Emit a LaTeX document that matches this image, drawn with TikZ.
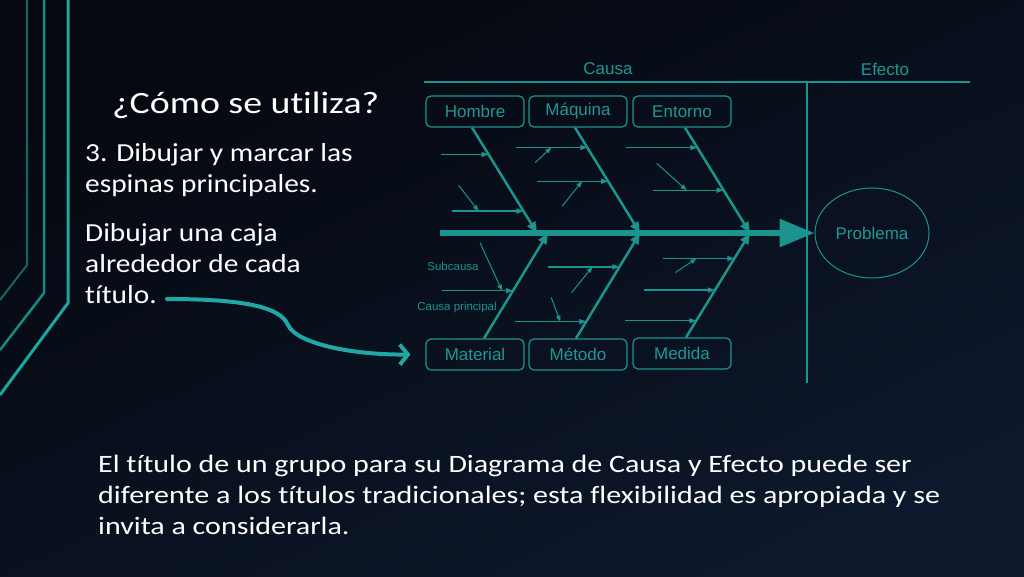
\documentclass[tikz,border=0pt]{standalone}
\usepackage{fontspec}
\setmainfont{Carlito}
\newfontfamily\diagfont{Liberation Sans}
\newfontfamily\titlefont[FakeStretch=1.22,Ligatures=NoCommon]{Carlito}
\newfontfamily\bodyfont[FakeStretch=1.13,Ligatures=NoCommon]{Carlito}
\newfontfamily\notefont[FakeStretch=1.2,Ligatures=NoCommon]{Carlito}
\usetikzlibrary{arrows.meta,shapes.geometric,calc,positioning}

\definecolor{bgtop}{RGB}{5,8,15}
\definecolor{bgbot}{RGB}{13,24,44}
\definecolor{fish}{RGB}{27,148,144}
\definecolor{fishtext}{RGB}{31,152,148}
\definecolor{deco1}{RGB}{17,104,103}
\definecolor{deco2}{RGB}{22,138,133}
\definecolor{deco3}{RGB}{29,166,159}
\definecolor{pointer}{RGB}{32,168,164}

\tikzset{
  titlebox/.style={draw=fish, line width=1.2pt, rounded corners=5pt,
    minimum width=98pt, minimum height=31pt, inner sep=0pt, text=fishtext,
    font=\diagfont\fontsize{17}{17}\selectfont},
  lab/.style={text=fishtext, inner sep=0pt, font=\diagfont\fontsize{17}{17}\selectfont},
  smalllab/.style={text=fish, inner sep=0pt, font=\diagfont\fontsize{11.5}{12}\selectfont},
  bone/.style={draw=fish, line width=2.5pt, -{Triangle[length=11pt,width=9pt]}},
  sub/.style={draw=fish, line width=1.4pt, -{Triangle[length=7pt,width=5pt]}},
  subsub/.style={draw=fish, line width=1pt, -{Triangle[length=6pt,width=4.5pt]}},
  slide/.style={text=white, inner sep=0pt, align=left, anchor=base west,
    font=\bodyfont\fontsize{26}{31}\selectfont},
}

\begin{document}
\begin{tikzpicture}[x=1pt, y=-1pt]

    \useasboundingbox (0,0) rectangle (1024,576);
    \shade[top color=bgtop, bottom color=bgbot, shading angle=25] (0,0) rectangle (1024,576);

    % Decoration
    \draw[deco1, line width=2pt] (27,0) -- (27,265) -- (0,300);
    \draw[deco2, line width=2.5pt] (44,0) -- (44,293) -- (0,350);
    \draw[deco3, line width=3pt] (68,0) -- (68,303) -- (0,395);

    % Text (base = last line)
    \node[slide, font=\titlefont\fontsize{31}{34}\selectfont] (title) at (112,113) {¿Cómo se utiliza?};
    \node[slide] (step) at (85,192) {3. Dibujar y marcar las\\espinas principales.};
    \node[slide] (box) at (85,303) {Dibujar una caja\\alrededor de cada\\título.};
    \node[slide, font=\notefont\fontsize{25}{31}\selectfont] (note) at (98,534)
      {El título de un grupo para su Diagrama de Causa y Efecto puede ser\\
       diferente a los títulos tradicionales; esta flexibilidad es apropiada y se\\
       invita a considerarla.};

    % Nodes
    \node[lab] (causa) at (608,69) {Causa};
    \node[lab] (efecto) at (885,69) {Efecto};
    \node[titlebox] (hombre) at (475,111.5) {Hombre};
    \node[titlebox] (maquina) at (578,111.5) {Máquina};
    \node[titlebox] (entorno) at (682,111.5) {Entorno};
    \node[titlebox] (material) at (475,354.5) {Material};
    \node[titlebox] (metodo) at (578,354.5) {Método};
    \node[titlebox] (medida) at (682,353.5) {Medida};
    \node[ellipse, draw=fish, line width=1pt, minimum width=114pt, minimum height=90pt,
      inner sep=0pt, lab] (problema) at (872,233) {Problema};
    \node[smalllab] (subcausa) at (453,266) {Subcausa};
    \node[smalllab] (principal) at (457,308) {Causa principal};

    \coordinate (hl) at (424,82);
    \coordinate (hr) at (970,82);
    \coordinate (dtop) at (807,82);
    \coordinate (dbot) at (807,383);
    \coordinate (spine) at (440,233);
    \coordinate (sh) at (537,233);
    \coordinate (sm) at (640,233);
    \coordinate (se) at (750,233);
    \coordinate (sma) at (548,233);
    \coordinate (sme) at (640,233);
    \coordinate (smd) at (750,233);
    \coordinate (bh) at ([xshift=-3pt]hombre.south);
    \coordinate (bm) at ([xshift=-3pt]maquina.south);
    \coordinate (be) at ([xshift=3pt]entorno.south);
    \coordinate (bma) at ([xshift=9pt]material.north);
    \coordinate (bme) at ([xshift=-2pt]metodo.north);
    \coordinate (bmd) at ([xshift=4pt]medida.north);

    % points on the bones
    \coordinate (h1) at ($(bh)!0.255!(sh)$);
    \coordinate (h2) at ($(bh)!0.792!(sh)$);
    \coordinate (m1) at ($(bm)!0.189!(sm)$);
    \coordinate (m2) at ($(bm)!0.509!(sm)$);
    \coordinate (e1) at ($(be)!0.189!(se)$);
    \coordinate (e2) at ($(be)!0.594!(se)$);
    \coordinate (ma1) at ($(bma)!0.453!(sma)$);
    \coordinate (me1) at ($(bme)!0.679!(sme)$);
    \coordinate (me2) at ($(bme)!0.160!(sme)$);
    \coordinate (md1) at ($(bmd)!0.755!(smd)$);
    \coordinate (md2) at ($(bmd)!0.453!(smd)$);
    \coordinate (md3) at ($(bmd)!0.160!(smd)$);

    % Lines
    \draw[fish, line width=1.2pt] (hl) -- (hr);
    \draw[fish, line width=1.2pt] (dtop) -- (dbot);
    \draw[fish, line width=6pt, -{Triangle[length=35pt,width=27pt]}] (spine) -- (problema.west);

    \draw[bone] (bh) -- (sh);
    \draw[bone] (bm) -- (sm);
    \draw[bone] (be) -- (se);
    \draw[bone] (bma) -- (sma);
    \draw[bone] (bme) -- (sme);
    \draw[bone] (bmd) -- (smd);

    \draw[sub] ($(h1)+(-48,0)$) -- (h1);
    \draw[sub] ($(h2)+(-71,0)$) -- (h2);
    \draw[sub] ($(m1)+(-71,0)$) -- (m1);
    \draw[sub] ($(m2)+(-71,0)$) -- (m2);
    \draw[sub] ($(e1)+(-71,0)$) -- (e1);
    \draw[sub] ($(e2)+(-71,0)$) -- (e2);
    \draw[sub] ($(ma1)+(-71,0)$) -- (ma1);
    \draw[sub] ($(me1)+(-71,0)$) -- (me1);
    \draw[sub] ($(me2)+(-71,0)$) -- (me2);
    \draw[sub] ($(md1)+(-71,0)$) -- (md1);
    \draw[sub] ($(md2)+(-71,0)$) -- (md2);
    \draw[sub] ($(md3)+(-71,0)$) -- (md3);

    \draw[subsub] ($(h2)+(-65,-26)$) -- ($(h2)+(-45,0)$);
    \draw[subsub] ($(m1)+(-52,15)$) -- ($(m1)+(-36,0)$);
    \draw[subsub] ($(m2)+(-46,25)$) -- ($(m2)+(-26,0)$);
    \draw[subsub] ($(e2)+(-67,-27)$) -- ($(e2)+(-37,0)$);
    \draw[subsub] ($(ma1)+(-33,-48)$) -- ($(ma1)+(-11,0)$);
    \draw[subsub] ($(me1)+(-48,26)$) -- ($(me1)+(-27,0)$);
    \draw[subsub] ($(me2)+(-35,-24)$) -- ($(me2)+(-26,0)$);
    \draw[subsub] ($(md1)+(-59,14)$) -- ($(md1)+(-38,0)$);

    % Pointer
    \coordinate (arrstart) at (167,299);
    \coordinate (arrbend) at (288,325);
    \draw[pointer, line width=4pt, line cap=round, -{Straight Barb[length=8pt,width=20pt]}]
      (arrstart) .. controls (240,299) and (280,306) .. (arrbend)
      .. controls (296,343) and (350,355) .. ([xshift=-15pt]material.west);

\end{tikzpicture}
\end{document}
